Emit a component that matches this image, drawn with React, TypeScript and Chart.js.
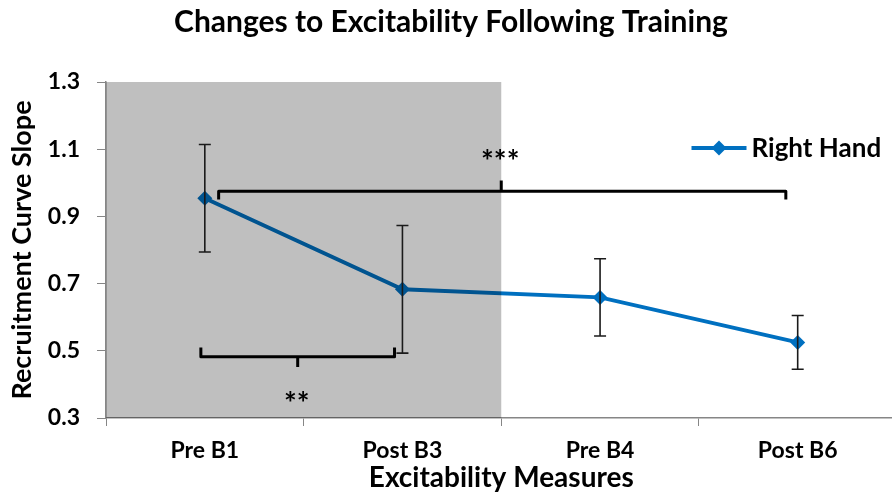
import React, { useEffect, useRef } from "react";
import { Chart, registerables } from "chart.js";

Chart.register(...registerables);

const categories = ["Pre B1", "Post B3", "Pre B4", "Post B6"];
const means = [0.954, 0.683, 0.659, 0.525];
const errors = [0.16, 0.19, 0.115, 0.08];
const yMin = 0.3;
const yMax = 1.3;
const yStep = 0.2;
const seriesName = "Right Hand";
// shaded span in category-index units
const shadeFrom = -0.5;
const shadeTo = 1.5;
// significance brackets (x in category-index units, y in data units)
const bracketTop = { x0: 0.07, x1: 2.94, xm: 1.5, y: 0.975, yEnd: 0.95, yTip: 1.007, label: "***", labelY: 1.082 };
const bracketBottom = { x0: -0.02, x1: 0.96, xm: 0.47, y: 0.482, yEnd: 0.51, yTip: 0.452, label: "**", labelY: 0.363 };

const FONT = "Lato, 'Open Sans', sans-serif";
const BLUE = "#0070C0";
const CANVAS_W = 904;
const CANVAS_H = 496;

const overlayPlugin = {
  id: "overlayPlugin",
  afterDatasetsDraw(chart: any) {
    const { ctx, chartArea, scales } = chart;
    const x = scales.x;
    const x0 = x.getPixelForValue(shadeFrom);
    const x1 = x.getPixelForValue(shadeTo);
    ctx.save();
    ctx.fillStyle = "rgba(0,0,0,0.25)";
    ctx.fillRect(x0, chartArea.top, x1 - x0, chartArea.bottom - chartArea.top);
    ctx.restore();
  },
  afterDraw(chart: any) {
    const { ctx, scales, chartArea } = chart;
    const xs = scales.x;
    const ys = scales.y;
    ctx.save();
    // error bars
    ctx.strokeStyle = "#1a1a1a";
    ctx.lineWidth = 1.6;
    means.forEach((m, i) => {
      const px = xs.getPixelForValue(i);
      const top = ys.getPixelForValue(m + errors[i]);
      const bot = ys.getPixelForValue(m - errors[i]);
      ctx.beginPath();
      ctx.moveTo(px, top);
      ctx.lineTo(px, bot);
      ctx.moveTo(px - 6, top);
      ctx.lineTo(px + 6, top);
      ctx.moveTo(px - 6, bot);
      ctx.lineTo(px + 6, bot);
      ctx.stroke();
    });
    // brackets
    ctx.strokeStyle = "#000";
    ctx.lineWidth = 3;
    ctx.lineJoin = "round";
    [bracketTop, bracketBottom].forEach((b) => {
      const a = xs.getPixelForValue(b.x0);
      const c = xs.getPixelForValue(b.x1);
      const m = xs.getPixelForValue(b.xm);
      const y = ys.getPixelForValue(b.y);
      const ye = ys.getPixelForValue(b.yEnd);
      const yt = ys.getPixelForValue(b.yTip);
      ctx.beginPath();
      ctx.moveTo(a, ye);
      ctx.lineTo(a, y);
      ctx.lineTo(c, y);
      ctx.lineTo(c, ye);
      ctx.moveTo(m, y);
      ctx.lineTo(m, yt);
      ctx.stroke();
      ctx.fillStyle = "#000";
      const fs = 30;
      ctx.font = `bold ${fs}px ${FONT}`;
      ctx.textAlign = "center";
      ctx.textBaseline = "alphabetic";
      ctx.fillText(b.label, m - 1, ys.getPixelForValue(b.labelY) + fs * 0.56);
    });
    // legend
    const lx = chartArea.right - 205;
    const ly = chartArea.top + 66;
    ctx.strokeStyle = BLUE;
    ctx.lineWidth = 4;
    ctx.beginPath();
    ctx.moveTo(lx, ly);
    ctx.lineTo(lx + 55, ly);
    ctx.stroke();
    ctx.fillStyle = BLUE;
    ctx.beginPath();
    ctx.moveTo(lx + 27.5, ly - 7.5);
    ctx.lineTo(lx + 35, ly);
    ctx.lineTo(lx + 27.5, ly + 7.5);
    ctx.lineTo(lx + 20, ly);
    ctx.closePath();
    ctx.fill();
    ctx.fillStyle = "#000";
    ctx.font = `bold 26px ${FONT}`;
    ctx.textAlign = "left";
    ctx.textBaseline = "middle";
    ctx.fillText(seriesName, lx + 60, ly + 1);
    ctx.restore();
  },
};

export default function App() {
  const ref = useRef<HTMLCanvasElement | null>(null);
  useEffect(() => {
    if (!ref.current) return;
    const chart = new Chart(ref.current, {
      type: "line",
      data: {
        labels: categories,
        datasets: [
          {
            label: seriesName,
            data: means,
            borderColor: BLUE,
            backgroundColor: BLUE,
            borderWidth: 4,
            pointStyle: "rectRot",
            pointRadius: 7.5,
            pointBorderWidth: 0,
            tension: 0,
          },
        ],
      },
      options: {
        responsive: false,
        animation: false,
        layout: { padding: { left: 0, right: 2, top: 0, bottom: 0 } },
        plugins: {
          legend: { display: false },
          tooltip: { enabled: false },
          title: {
            display: true,
            text: "Changes to Excitability Following Training",
            color: "#000",
            font: { family: FONT, size: 30, weight: "bold" },
            padding: { top: 4, bottom: 42 },
          },
        },
        scales: {
          x: {
            offset: true,
            afterFit: (s: any) => {
              s.height = 78;
            },
            grid: {
              offset: true,
              drawOnChartArea: false,
              drawTicks: true,
              tickLength: 8,
              color: "#868686",
            },
            border: { color: "#868686", width: 1.5 },
            ticks: {
              color: "#000",
              font: { family: FONT, size: 23, weight: "bold" },
              padding: 11,
              maxRotation: 0,
            },
            title: {
              display: true,
              text: "Excitability Measures",
              color: "#000",
              font: { family: FONT, size: 28, weight: "bold" },
              padding: { top: 0, bottom: 1 },
            },
          },
          y: {
            min: yMin,
            max: yMax,
            afterFit: (s: any) => {
              s.width = 106;
            },
            grid: {
              drawOnChartArea: false,
              drawTicks: true,
              tickLength: 9,
              color: "#868686",
            },
            border: { color: "#868686", width: 1.5 },
            ticks: {
              stepSize: yStep,
              color: "#000",
              font: { family: FONT, size: 23, weight: "bold" },
              padding: 17,
              callback: (v: any) => Number(v).toFixed(1),
            },
            title: {
              display: true,
              text: "Recruitment Curve Slope",
              color: "#000",
              font: { family: FONT, size: 27, weight: "bold" },
              padding: { top: 6, bottom: 0 },
            },
          },
        },
      },
      plugins: [overlayPlugin],
    });
    return () => chart.destroy();
  }, []);
  return (
    <div style={{ position: "fixed", left: 0, top: 0, width: CANVAS_W, height: CANVAS_H, background: "#fff" }}>
      <canvas ref={ref} width={CANVAS_W} height={CANVAS_H} />
    </div>
  );
}
